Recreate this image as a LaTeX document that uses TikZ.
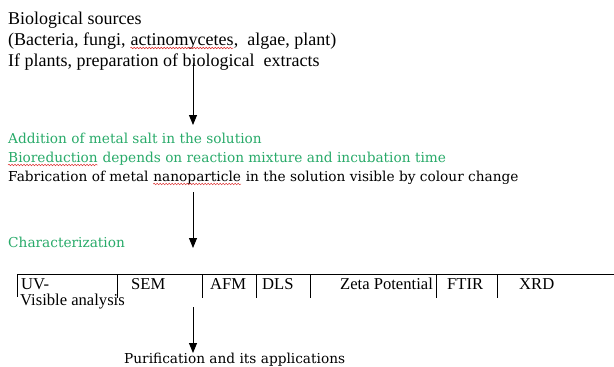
\documentclass[tikz,border=0pt]{standalone}
\usepackage{fontspec}
\setmainfont{Liberation Serif}
\newfontfamily\slabfont{DejaVu Serif}
\usetikzlibrary{arrows.meta,decorations.pathmorphing}
\definecolor{leafgreen}{RGB}{40,170,105}
\definecolor{spellred}{RGB}{220,40,40}
\begin{document}
\begin{tikzpicture}[x=1pt,y=-1pt,
			txt/.style={anchor=base west,inner sep=0pt,font=\fontsize{18}{21}\selectfont},
			slab/.style={anchor=base west,inner sep=0pt,font=\slabfont\fontsize{13.7}{16}\selectfont},
			grn/.style={slab,text=leafgreen},
			cell/.style={anchor=base west,inner sep=0pt,font=\fontsize{16.6}{19}\selectfont},
			flow/.style={line width=1pt,-{Triangle[width=8pt,length=10pt]}},
			rule/.style={line width=1pt},
			spell/.style={spellred,line width=0.45pt,decorate,decoration={snake,amplitude=0.8pt,segment length=3pt}}]
			\useasboundingbox (0,0) rectangle (614,367);
			
			% Sources
			\node[txt] (src1) at (8,24) {Biological sources};
			\node[txt] (src2) at (8,45) {(Bacteria, fungi,};
			\node[txt] (src2w) at ([xshift=4.5pt]src2.base east) {actinomycetes};
			\node[txt] (src2r) at (src2w.base east) {,\ \ algae, plant)};
			\node[txt] (src3) at (8,66) {If plants, preparation of biological\ \ extracts};
			\draw[spell] ([yshift=-3pt]src2w.base west) -- ([yshift=-3pt]src2w.base east);
			
			% Synthesis
			\node[grn] (syn1) at (8,143) {Addition of metal salt in the solution};
			\node[grn] (syn2w) at (8,162) {Bioreduction};
			\node[grn] (syn2) at (syn2w.base east) {\ depends on reaction mixture and incubation time};
			\node[slab] (syn3) at (8,181) {Fabrication of metal};
			\node[slab] (syn3w) at ([xshift=4.4pt]syn3.base east) {nanoparticle};
			\node[slab] (syn3r) at (syn3w.base east) {\ in the solution visible by colour change};
			\draw[spell] ([yshift=-3pt]syn2w.base west) -- ([yshift=-3pt]syn2w.base east);
			\draw[spell] ([yshift=-3pt]syn3w.base west) -- ([yshift=-3pt]syn3w.base east);
			
			% Characterization
			\node[grn] (chr) at (8,247) {Characterization};
			
			% Techniques row
			\coordinate (rowL) at (17,274);
			\coordinate (rowR) at (614,274);
			\draw[rule] (rowR) -- (rowL) -- ++(0,23);
			\foreach \sx in {117,202,256,310,436,497}
			\draw[rule] (\sx,274) -- (\sx,298);
			\node[cell] (uv) at (21,289) {UV-};
			\node[cell] (sem) at (131,289) {SEM};
			\node[cell] (afm) at (210,289) {AFM};
			\node[cell] (dls) at (262,289) {DLS};
			\node[cell] (zeta) at (340,289) {Zeta Potential};
			\node[cell] (ftir) at (447,289) {FTIR};
			\node[cell] (xrd) at (519,289) {XRD};
			\node[cell] (vis) at (20,305) {Visible analysis};
			
			% Purification
			\node[slab] (pur) at (124,363) {Purification and its applications};
			
			% Arrows
			\coordinate (a1s) at (193,63);
			\coordinate (a1e) at (193,125);
			\coordinate (a2s) at (193,192);
			\coordinate (a2e) at (193,248);
			\coordinate (a3s) at (193,307);
			\coordinate (a3e) at (193,353);
			\draw[flow] (a1s) -- (a1e);
			\draw[flow] (a2s) -- (a2e);
			\draw[flow] (a3s) -- (a3e);
			
		\end{tikzpicture}
\end{document}
